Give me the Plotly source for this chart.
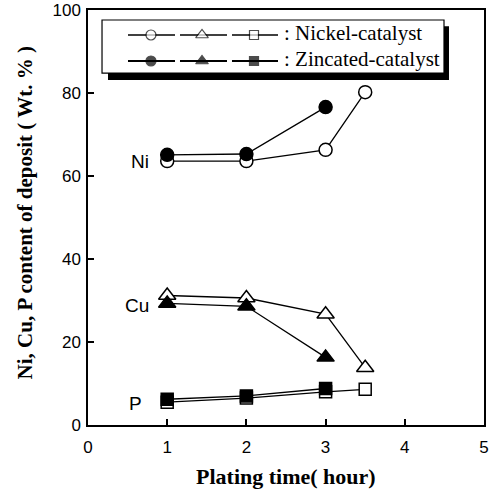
import plotly.graph_objects as go

# ---- data ----
time_nickel = [1, 2, 3, 3.5]
time_zinc = [1, 2, 3]
ni_nickel = [63.6, 63.6, 66.3, 80.2]
ni_zinc = [65.1, 65.3, 76.6]
cu_nickel = [31.2, 30.6, 26.7, 13.8]
cu_zinc = [29.3, 28.6, 16.3]
p_nickel = [5.5, 6.5, 8.0, 8.6]
p_zinc = [6.2, 7.0, 8.8]

x_ticks = [0, 1, 2, 3, 4, 5]
y_ticks = [0, 20, 40, 60, 80, 100]
series_labels = ["Ni", "Cu", "P"]
legend_labels = [": Nickel-catalyst", ": Zincated-catalyst"]

SERIF = "Liberation Serif, Times New Roman, serif"
SANS = "Liberation Sans, Arial, sans-serif"

fig = go.Figure()

def add(x, y, symbol, size, filled):
    fig.add_trace(go.Scatter(
        x=x, y=y, mode="lines+markers",
        line=dict(color="black", width=1.3),
        marker=dict(symbol=symbol, size=size,
                    color="black" if filled else "white",
                    line=dict(color="black", width=1.5)),
        showlegend=False, cliponaxis=False))

add(time_nickel, ni_nickel, "circle", 13, False)
add(time_zinc, ni_zinc, "circle", 13, True)
add(time_nickel, cu_nickel, "triangle-up", 15, False)
add(time_zinc, cu_zinc, "triangle-up", 15, True)
add(time_nickel, p_nickel, "square", 12, False)
add(time_zinc, p_zinc, "square", 12, True)

# ---- custom legend (paper coords of plot area) ----
shapes = []
# shadow
shapes.append(dict(type="rect", xref="paper", yref="paper",
                   x0=0.0505, x1=0.9116, y0=0.8313, y1=0.961,
                   fillcolor="black", line=dict(width=0), layer="below"))
# box
shapes.append(dict(type="rect", xref="paper", yref="paper",
                   x0=0.0354, x1=0.899, y0=0.848, y1=0.9759,
                   fillcolor="white", line=dict(color="black", width=1.2), layer="below"))
rows_y = [0.9398, 0.8771]
segs = [(0.101, 0.2197, 0.159, "circle", 10),
        (0.2323, 0.351, 0.2879, "triangle-up", 11),
        (0.3636, 0.4798, 0.4192, "square", 9)]
for r, yy in enumerate(rows_y):
    for (a, b, m, sym, sz) in segs:
        shapes.append(dict(type="line", xref="paper", yref="paper",
                           x0=a, x1=b, y0=yy, y1=yy,
                           line=dict(color="black", width=1.3 if r == 0 else 1.8),
                           layer="below"))
fig.update_layout(shapes=shapes)

# legend markers on overlay axes in paper units
for r, yy in enumerate(rows_y):
    fig.add_trace(go.Scatter(
        x=[s[2] for s in segs], y=[yy] * 3, mode="markers",
        xaxis="x2", yaxis="y2",
        marker=dict(symbol=[s[3] for s in segs], size=[s[4] for s in segs],
                    color="white" if r == 0 else "black",
                    line=dict(color="black", width=1.2)),
        showlegend=False, hoverinfo="skip", cliponaxis=False))

annotations = []
for yy, txt in zip(rows_y, legend_labels):
    annotations.append(dict(xref="paper", yref="paper", x=0.4899, y=yy + 0.004,
                            text=txt, showarrow=False, xanchor="left", yanchor="middle",
                            font=dict(family=SERIF, size=21, color="black")))

# series labels
for lab, (lx, ly) in zip(series_labels, [(0.66, 63.4), (0.62, 28.9), (0.6, 5.3)]):
    annotations.append(dict(x=lx, y=ly, xref="x", yref="y", text=lab, showarrow=False,
                            xanchor="center", yanchor="middle",
                            font=dict(family=SANS, size=19, color="black")))

# axis titles
annotations.append(dict(xref="paper", yref="paper", x=0.5, y=-0.125,
                        text="<b>Plating time( hour)</b>", showarrow=False,
                        xanchor="center", yanchor="middle",
                        font=dict(family=SERIF, size=22, color="black")))
annotations.append(dict(xref="paper", yref="paper", x=-0.159, y=0.51,
                        text="<b>Ni, Cu, P content of deposit ( Wt. % )</b>", showarrow=False,
                        textangle=-90, xanchor="center", yanchor="middle",
                        font=dict(family=SERIF, size=21, color="black")))
fig.update_layout(annotations=annotations)

axis_common = dict(showline=True, linecolor="black", linewidth=1.5, mirror=True,
                   ticks="inside", ticklen=6, tickwidth=1.5, tickcolor="black",
                   showgrid=False, zeroline=False, automargin=False,
                   tickfont=dict(family=SANS, size=17, color="black"))

fig.update_layout(
    width=492, height=493,
    margin=dict(l=88, r=8, t=10, b=68),
    paper_bgcolor="white", plot_bgcolor="white",
    xaxis=dict(range=[0, 5], tickvals=x_ticks, ticklabelstandoff=6, **axis_common),
    yaxis=dict(range=[0, 100], tickvals=y_ticks, ticklabelstandoff=2, **axis_common),
    xaxis2=dict(range=[0, 1], overlaying="x", visible=False, anchor="y2"),
    yaxis2=dict(range=[0, 1], overlaying="y", visible=False, anchor="x2"),
)

fig.write_html("out.html", config={"displayModeBar": False})
